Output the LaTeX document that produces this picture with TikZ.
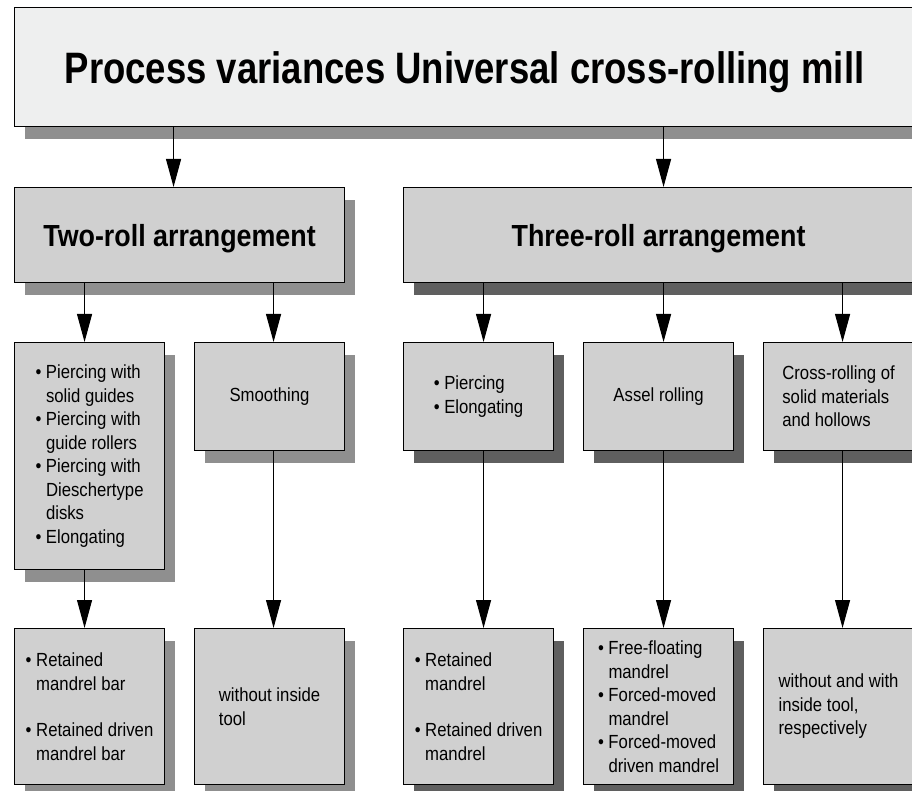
\documentclass[tikz,border=0pt]{standalone}
\usepackage{fontspec}
\setmainfont{Liberation Sans}[FakeStretch=0.88]
\newfontfamily\titlefont{Liberation Sans}[FakeStretch=0.83]
\usepackage{tikz}
\usetikzlibrary{calc,shadows,arrows.meta}

\definecolor{titlegray}{RGB}{238,239,239}
\definecolor{boxgray}{RGB}{208,208,208}
\definecolor{shadelight}{RGB}{143,143,143}
\definecolor{shadedark}{RGB}{95,95,95}

\newcommand\bitem{\textbullet\ }
\newcommand\bcont{\hphantom{\textbullet\ }}

\tikzset{
  box/.style={draw,line width=1.1pt,fill=boxgray,anchor=north west,inner sep=0pt,
    minimum width=150pt,align=left,font=\fontsize{19}{23.5}\selectfont},
  headbox/.style={box,minimum height=95pt,text height=22pt,text depth=0pt,
    font=\fontsize{30.5}{34}\selectfont\bfseries},
  lshade/.style={drop shadow={shadow xshift=10pt,shadow yshift=-12pt,fill=shadelight,opacity=1}},
  dshade/.style={drop shadow={shadow xshift=10pt,shadow yshift=-12pt,fill=shadedark,opacity=1}},
  arr/.style={line width=1.1pt,-{Triangle[length=28pt,width=15pt]}}
}

\begin{document}
\begin{tikzpicture}[x=1pt,y=-1pt]
    \useasboundingbox (0,0) rectangle (912,791);
    \clip (0,0) rectangle (912,791);
    % title
    \node[box,lshade,fill=titlegray,minimum width=900pt,minimum height=119pt,
      text height=32pt,text depth=0pt,font=\fontsize{44}{48}\titlefont\bfseries] (title) at (14,7)
      {Process variances Universal cross-rolling mill};
    % arrangements
    \node[headbox,lshade,minimum width=330pt] (tworoll) at (14,187) {Two-roll arrangement};
    \node[headbox,dshade,minimum width=510pt] (threeroll) at (403,187) {Three-roll arrangement};
    % processes
    \node[box,lshade,minimum height=227pt] (piercing) at (14,342)
      {\bitem Piercing with\\ \bcont solid guides\\ \bitem Piercing with\\ \bcont guide rollers\\
       \bitem Piercing with\\ \bcont Dieschertype\\ \bcont disks\\ \bitem Elongating};
    \node[box,lshade,minimum height=108pt] (smoothing) at (194,342) {Smoothing};
    \node[box,dshade,minimum height=108pt] (elong) at (403,342) {\bitem Piercing\\ \bitem Elongating};
    \node[box,dshade,minimum height=108pt] (assel) at (583,342) {Assel rolling};
    \node[box,dshade,minimum height=108pt] (cross) at (763,342)
      {Cross-rolling of\\ solid materials\\ and hollows};
    % tools
    \node[box,lshade,minimum height=156pt] (bartool) at (14,628)
      {\bitem Retained\\ \bcont mandrel bar\\[23pt] \bitem Retained driven\\ \bcont mandrel bar};
    \node[box,lshade,minimum height=156pt] (notool) at (194,628) {without inside\\ tool};
    \node[box,dshade,minimum height=156pt] (mandtool) at (403,628)
      {\bitem Retained\\ \bcont mandrel\\[23pt] \bitem Retained driven\\ \bcont mandrel};
    \node[box,dshade,minimum height=156pt] (floattool) at (583,628)
      {\bitem Free-floating\\ \bcont mandrel\\ \bitem Forced-moved\\ \bcont mandrel\\
       \bitem Forced-moved\\ \bcont driven mandrel};
    \node[box,dshade,minimum height=156pt] (bothtool) at (763,628)
      {without and with\\ inside tool,\\ respectively};
    % connectors
    \draw[arr] ($(title.south -| tworoll.north)+(-6,0)$) -- ($(tworoll.north)+(-6,0)$);
    \draw[arr] ($(title.south -| threeroll.north)+(5,0)$) -- ($(threeroll.north)+(5,0)$);
    \draw[arr] ($(tworoll.south -| piercing.north)+(-5,0)$) -- ($(piercing.north)+(-5,0)$);
    \draw[arr] ($(tworoll.south -| smoothing.north)+(4,0)$) -- ($(smoothing.north)+(4,0)$);
    \draw[arr] ($(threeroll.south -| elong.north)+(5,0)$) -- ($(elong.north)+(5,0)$);
    \draw[arr] ($(threeroll.south -| assel.north)+(5,0)$) -- ($(assel.north)+(5,0)$);
    \draw[arr] ($(threeroll.south -| cross.north)+(4,0)$) -- ($(cross.north)+(4,0)$);
    \draw[arr] ($(piercing.south)+(-5,0)$) -- ($(bartool.north)+(-5,0)$);
    \draw[arr] ($(smoothing.south)+(4,0)$) -- ($(notool.north)+(4,0)$);
    \draw[arr] ($(elong.south)+(5,0)$) -- ($(mandtool.north)+(5,0)$);
    \draw[arr] ($(assel.south)+(5,0)$) -- ($(floattool.north)+(5,0)$);
    \draw[arr] ($(cross.south)+(4,0)$) -- ($(bothtool.north)+(4,0)$);
\end{tikzpicture}
\end{document}
